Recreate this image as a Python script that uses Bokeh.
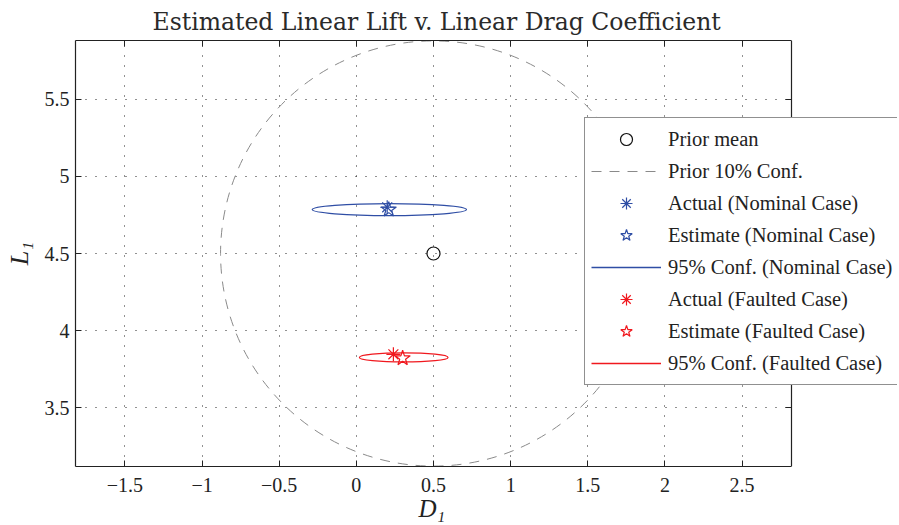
from bokeh.plotting import figure
from bokeh.models import (Range1d, FixedTicker, LinearAxis, Legend, LegendItem,
                          BoxAnnotation, CustomJSTickFormatter, Title)
from bokeh.embed import file_html
from bokeh.resources import INLINE

# ---- data ----
prior_mean_x = [0.5]
prior_mean_y = [4.5]
prior_conf_w = [2.76]   # full width of prior 10% ellipse (D1)
prior_conf_h = [2.76]   # full height (L1)

nom_actual_x = [0.20]
nom_actual_y = [4.80]
nom_est_x = [0.21]
nom_est_y = [4.785]
nom_conf_x = [0.214]
nom_conf_y = [4.785]
nom_conf_w = [1.0]
nom_conf_h = [0.078]

flt_actual_x = [0.24]
flt_actual_y = [3.846]
flt_est_x = [0.30]
flt_est_y = [3.82]
flt_conf_x = [0.307]
flt_conf_y = [3.826]
flt_conf_w = [0.575]
flt_conf_h = [0.058]

x_limits = (-1.82, 2.82)
y_limits = (3.118, 5.882)
x_ticks = [-1.5, -1, -0.5, 0, 0.5, 1, 1.5, 2, 2.5]
x_tick_labels = ["\u22121.5", "\u22121", "\u22120.5", "0", "0.5", "1", "1.5", "2", "2.5"]
y_ticks = [3.5, 4, 4.5, 5, 5.5]
y_tick_labels = ["3.5", "4", "4.5", "5", "5.5"]

BLUE = "#2f4ea5"
RED = "#f0181e"
GRAY = "#8a8a8a"
INK = "#222222"
FONT = "Liberation Serif"

# frame extends to the window's right edge so the legend can overhang the axes box
BOX_W, FRAME_W, FRAME_H = 716, 822, 426
px_per_unit = BOX_W / (x_limits[1] - x_limits[0])
x_view_end = x_limits[0] + FRAME_W / px_per_unit

p = figure(frame_width=FRAME_W, frame_height=FRAME_H,
           output_backend="svg", toolbar_location=None,
           x_range=Range1d(x_limits[0], x_view_end), y_range=Range1d(*y_limits),
           min_border_left=75, min_border_right=0, min_border_top=40,
           min_border_bottom=0)
p.title.text = "Estimated Linear Lift v. Linear Drag Coefficient"
p.title.align = "left"
p.title.offset = 77
p.title.text_font = "DejaVu Serif"
p.title.text_font_size = "23.5px"
p.title.text_font_style = "normal"
p.title.text_color = "#2a2a2a"
p.background_fill_color = "white"
p.border_fill_color = "white"
p.outline_line_color = None

# axes
for ax, ticks, labels in ((p.xaxis[0], x_ticks, x_tick_labels), (p.yaxis[0], y_ticks, y_tick_labels)):
    ax.ticker = FixedTicker(ticks=ticks)
    ax.major_label_overrides = {t: l for t, l in zip(ticks, labels)}
    ax.minor_tick_line_color = None
    ax.major_tick_in = 6
    ax.major_tick_out = 0
    ax.major_tick_line_color = INK
    ax.axis_line_color = INK
    ax.axis_line_width = 1.2
    ax.major_label_text_font = FONT
    ax.major_label_text_font_size = "20px"
    ax.major_label_text_color = INK
    ax.axis_label_text_font = FONT
    ax.axis_label_text_font_size = "26px"
    ax.axis_label_text_font_style = "italic"
    ax.axis_label_text_color = INK
p.xaxis[0].bounds = x_limits
p.yaxis[0].axis_label = "L\u2081"
p.xaxis[0].major_label_standoff = 11
p.yaxis[0].major_label_standoff = 6
p.yaxis[0].axis_label_standoff = 8

# x axis label, centred under the axes box (not under the wider frame)
xlabel = Title(text="D\u2081", align="left", offset=343, text_font=FONT,
               text_font_size="25px", text_font_style="italic", text_color=INK,
               vertical_align="top", standoff=0)
p.add_layout(xlabel, "below")

# box edges with inward ticks on top and right
blank = CustomJSTickFormatter(code="return ''")
top = LinearAxis(ticker=FixedTicker(ticks=x_ticks), formatter=blank, bounds=x_limits,
                 major_label_text_font_size="1px", major_label_text_color=None,
                 major_label_standoff=0, major_tick_in=6, major_tick_out=0,
                 minor_tick_line_color=None, axis_line_color=INK, axis_line_width=1.2,
                 major_tick_line_color=INK)
p.add_layout(top, "above")
right = LinearAxis(ticker=FixedTicker(ticks=y_ticks), formatter=blank,
                   fixed_location=x_limits[1],
                   major_label_text_font_size="1px", major_label_text_color=None,
                   major_label_standoff=0, major_tick_in=6, major_tick_out=0,
                   minor_tick_line_color=None, axis_line_color=INK, axis_line_width=1.2,
                   major_tick_line_color=INK)
p.add_layout(right, "right")

# grid
for g, t in ((p.xgrid[0], x_ticks), (p.ygrid[0], y_ticks)):
    g.ticker = FixedTicker(ticks=t)
    g.grid_line_color = INK
    g.grid_line_dash = "1 9"
    g.grid_line_width = 1

# blank out the area right of the axes box
p.add_layout(BoxAnnotation(left=x_limits[1], fill_color="white", fill_alpha=1,
                           line_color=None, level="glyph"))

# prior 10% confidence ellipse
p.ellipse(x=prior_mean_x, y=prior_mean_y, width=prior_conf_w, height=prior_conf_h,
          fill_color=None, line_color=GRAY, line_dash="10 8", line_width=1)
# 95% confidence ellipses
p.ellipse(x=nom_conf_x, y=nom_conf_y, width=nom_conf_w, height=nom_conf_h,
          fill_color=None, line_color=BLUE, line_width=1.2)
p.ellipse(x=flt_conf_x, y=flt_conf_y, width=flt_conf_w, height=flt_conf_h,
          fill_color=None, line_color=RED, line_width=1.2)

r_mean = p.scatter(prior_mean_x, prior_mean_y, marker="circle", size=13,
                   fill_color=None, line_color="#111111", line_width=1.2)
r_na = p.scatter(nom_actual_x, nom_actual_y, marker="asterisk", size=14,
                 line_color=BLUE, line_width=1.2)
r_ne = p.scatter(nom_est_x, nom_est_y, marker="star", size=16,
                 fill_color=None, line_color=BLUE, line_width=1.2)
r_fa = p.scatter(flt_actual_x, flt_actual_y, marker="asterisk", size=14,
                 line_color=RED, line_width=1.2)
r_fe = p.scatter(flt_est_x, flt_est_y, marker="star", size=16,
                 fill_color=None, line_color=RED, line_width=1.2)

# legend proxies for ellipse outlines (single point lines draw nothing)
l_prior = p.line(prior_mean_x, prior_mean_y, line_color=GRAY, line_dash="10 8", line_width=1)
l_nom = p.line(nom_conf_x, nom_conf_y, line_color=BLUE, line_width=1.3)
l_flt = p.line(flt_conf_x, flt_conf_y, line_color=RED, line_width=1.3)

legend = Legend(items=[
    LegendItem(label="Prior mean", renderers=[r_mean]),
    LegendItem(label="Prior 10% Conf.", renderers=[l_prior]),
    LegendItem(label="Actual (Nominal Case)", renderers=[r_na]),
    LegendItem(label="Estimate (Nominal Case)", renderers=[r_ne]),
    LegendItem(label="95% Conf. (Nominal Case)", renderers=[l_nom]),
    LegendItem(label="Actual (Faulted Case)", renderers=[r_fa]),
    LegendItem(label="Estimate (Faulted Case)", renderers=[r_fe]),
    LegendItem(label="95% Conf. (Faulted Case)", renderers=[l_flt]),
], location=(509, 81))
legend.margin = 0
legend.padding = 6
legend.spacing = 2
legend.glyph_width = 70
legend.glyph_height = 30
legend.label_height = 20
legend.label_standoff = 7
legend.label_text_font = FONT
legend.label_text_font_size = "20.5px"
legend.label_text_color = INK
legend.border_line_color = INK
legend.border_line_width = 1
legend.background_fill_color = "white"
legend.background_fill_alpha = 1
p.add_layout(legend, "center")

open("out.html", "w").write(file_html(p, INLINE))
